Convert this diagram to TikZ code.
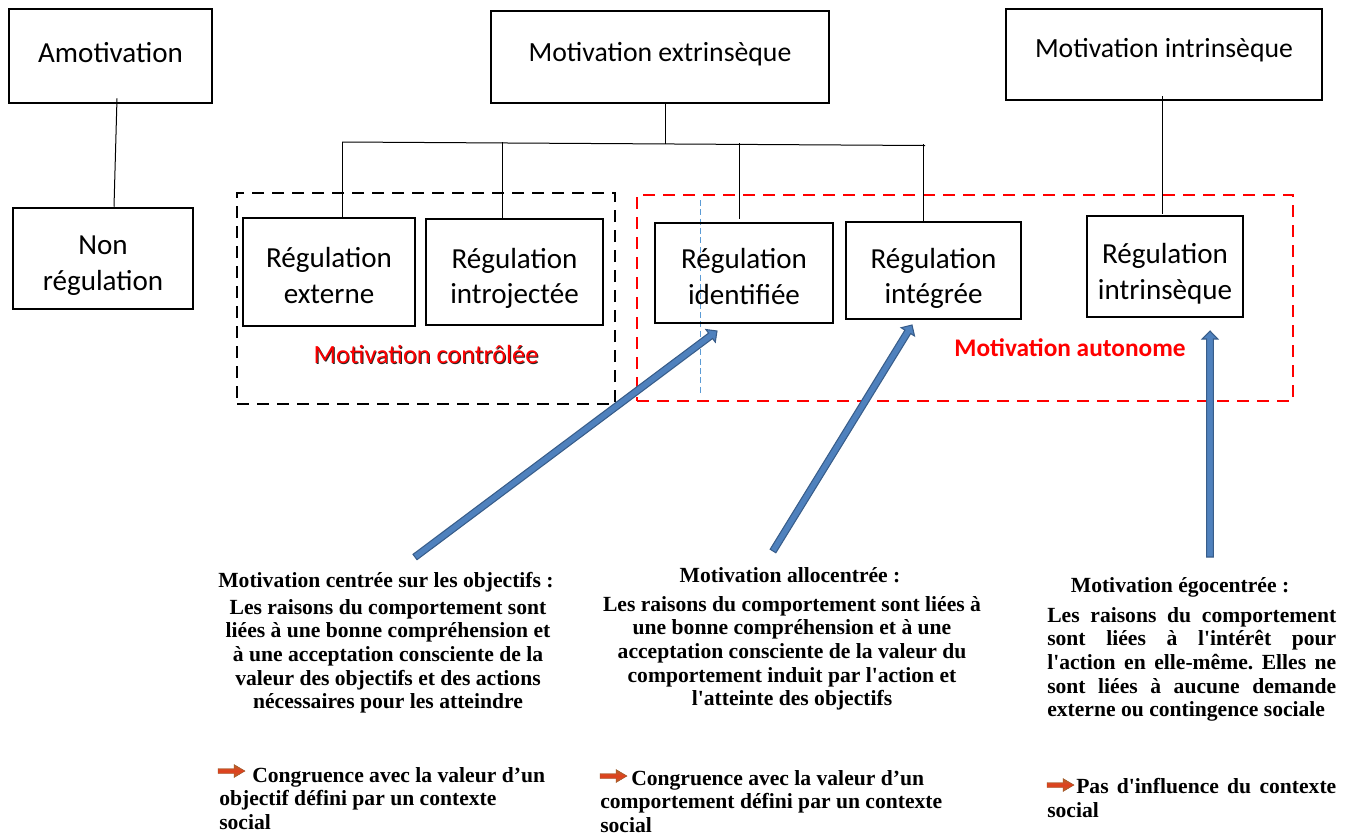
\documentclass[tikz,border=0pt]{standalone}
\usepackage{fontspec}
\setmainfont{Liberation Serif}
\newfontfamily\calibri{Carlito}
\usetikzlibrary{calc}
\definecolor{abfill}{HTML}{4F81BD}
\definecolor{abline}{HTML}{385D8A}
\definecolor{icoA}{HTML}{B5652A}
\definecolor{icoB}{HTML}{E0401E}
\definecolor{ltblue}{HTML}{5B9BD5}
\newcommand\ap{\textquotesingle}
\newcommand\jline[1]{\hbox to 216.75pt{#1}}
\newcommand\blockarrow[2]{%
 \draw[barrow] let \p1=($(#2)-(#1)$), \n1={atan2(\y1,\x1)}, \n2={veclen(\x1,\y1)} in
  ($(#1)+(\n1+90:2.5pt)$) -- ($(#1)+(\n1:{\n2-6pt})+(\n1+90:2.5pt)$) --
  ($(#1)+(\n1:{\n2-6pt})+(\n1+90:5.9pt)$) -- (#2) --
  ($(#1)+(\n1:{\n2-6pt})+(\n1-90:5.9pt)$) -- ($(#1)+(\n1:{\n2-6pt})+(\n1-90:2.5pt)$) --
  ($(#1)+(\n1-90:2.5pt)$) -- cycle;}
\newcommand\orangeicon[2]{%
 \draw[iconstyle] (#1,#2-2.5) -- (#1+16,#2-2.5) -- (#1+16,#2-6.5) -- (#1+27,#2) --
  (#1+16,#2+6.5) -- (#1+16,#2+2.5) -- (#1,#2+2.5) -- cycle;}
\begin{document}
\frenchspacing
\begin{tikzpicture}[x=0.75pt,y=-0.75pt,
  box/.style={draw, line width=1.9pt, inner sep=0pt},
  boxtext/.style={inner sep=0pt, align=center, font=\calibri\fontsize{21.8pt}{26.8pt}\selectfont},
  toptext/.style={inner sep=0pt, align=center, font=\calibri\fontsize{20.8pt}{25pt}\selectfont},
  wh/.style 2 args={minimum width=#1*0.75pt, minimum height=#2*0.75pt},
  conn/.style={line width=0.75pt},
  grpblack/.style={draw, line width=1.9pt, dash pattern=on 9pt off 6pt, inner sep=0pt},
  grpred/.style={grpblack, draw=red},
  barrow/.style={draw=abline, fill=abfill, line width=0.8pt, line join=miter},
  iconstyle/.style={draw=icoA!80!black, line width=0.3pt, top color=icoA, bottom color=icoA, middle color=icoB},
  txt/.style={inner sep=0pt, font=\bfseries\fontsize{16.2pt}{17.7pt}\selectfont},
]
\useasboundingbox (0,0) rectangle (1351,836);

% group frames
\node[grpblack, wh={378}{211}] (ctrlgrp) at (426,298.5) {};
\node[grpred, wh={656}{206}] (autogrp) at (965,298) {};
\draw[ltblue, line width=0.75pt, dash pattern=on 4.5pt off 2.5pt] (700,200) -- (700,396);

% boxes
\node[box, wh={203}{94}] (amot) at (110.5,56) {};
\node[box, wh={338}{92}] (ext) at (660,57) {};
\node[box, wh={316}{91}] (intr) at (1164,54.5) {};
\node[box, wh={180}{101}] (nonreg) at (103,258.5) {};
\node[box, wh={172}{108}] (regext) at (329,272) {};
\node[box, wh={177}{106}] (regintro) at (514.5,272) {};
\node[box, wh={178}{100}] (regid) at (744,273) {};
\node[box, wh={175}{97}] (regint) at (933.5,270.5) {};
\node[box, wh={156}{101}] (regintr) at (1165,266.5) {};

\node[boxtext] (amot-t) at ($(amot.center)+(0,-3)$) {Amotivation};
\node[toptext] (ext-t) at ($(ext.center)+(0,-3)$) {Motivation extrinsèque};
\node[toptext] (intr-t) at ($(intr.center)+(0,-4)$) {Motivation intrinsèque};
\node[boxtext] (nonreg-t) at ($(nonreg.center)+(0,7)$) {Non\\régulation};
\node[boxtext] (regext-t) at ($(regext.center)+(0,3.5)$) {Régulation\\externe};
\node[boxtext] (regintro-t) at ($(regintro.center)+(0,6.5)$) {Régulation\\introjectée};
\node[boxtext] (regid-t) at ($(regid.center)+(0,3.5)$) {Régulation\\identifiée};
\node[boxtext] (regint-t) at ($(regint.center)+(0,8)$) {Régulation\\intégrée};
\node[boxtext] (regintr-t) at ($(regintr.center)+(0,7)$) {Régulation\\intrinsèque};

% tree connectors
\coordinate (busL) at (342,142);
\coordinate (busR) at (925,145.5);
\draw[conn] ($(ext.south)+(5,0)$) -- ($(ext.south)+(5,39.5)$);
\draw[conn] (busL) -- (busR);
\draw[conn] (busL) -- ($(regext.north)+(13,0)$);
\draw[conn] ($(regintro.north)+(-12.5,0)$) -- ++(0,-76);
\draw[conn] ($(regid.north)+(-5,-3)$) -- ++(0,-75.5);
\draw[conn] ($(regint.north)+(-10.5,0)$) -- ++(0,-76.5);
\draw[conn] ($(amot.south)+(6.5,-6)$) -- ($(nonreg.north)+(11,0)$);
\draw[conn] ($(intr.south)+(-2,-5)$) -- ($(regintr.north)+(-3,-1)$);

% group labels
\node[inner sep=0pt, font=\calibri\fontsize{19.7pt}{24pt}\selectfont] (ctrllab) at (426,355)
  {\rlap{\kern0.7pt\raisebox{-0.7pt}{\color{black!85}Motivation contrôlée}}{\color{red}Motivation contrôlée}};
\node[inner sep=0pt, text=red, font=\calibri\bfseries\fontsize{19pt}{23pt}\selectfont] (autolab) at (1070,348) {Motivation autonome};

% block arrows
\coordinate (a1s) at (415,557);
\coordinate (a1e) at (717,331);
\coordinate (a2s) at (773,551);
\coordinate (a2e) at (912,325);
\coordinate (a3s) at (1210,557);
\coordinate (a3e) at (1210,331);
\blockarrow{a1s}{a1e}
\blockarrow{a2s}{a2e}
\blockarrow{a3s}{a3e}

% text blocks
\node[txt, anchor=base] (h1) at (386,587) {Motivation centrée sur les objectifs :};
\node[txt, anchor=north, align=center] (b1) at (388,599) {Les raisons du comportement sont\\liées à une bonne compréhension et\\à une acceptation consciente de la\\valeur des objectifs et des actions\\nécessaires pour les atteindre};

\node[txt, anchor=base] (h2) at (790,582) {Motivation allocentrée :};
\node[txt, anchor=north, align=center] (b2) at (792,596) {Les raisons du comportement sont liées à\\une bonne compréhension et à une\\acceptation consciente de la valeur du\\comportement induit par l\ap action et\\l\ap atteinte des objectifs};

\node[txt, anchor=base] (h3) at (1180,592) {Motivation égocentrée :};
\node[txt, anchor=north west, align=left] (b3) at (1047,607) {\jline{Les\hfill raisons\hfill du\hfill comportement}\\\jline{sont\hfill liées\hfill à\hfill l\ap intérêt\hfill pour}\\\jline{l\ap action\hfill en\hfill elle-même.\hfill Elles\hfill ne}\\\jline{sont\hfill liées\hfill à\hfill aucune\hfill demande}\\externe ou contingence sociale};

% bottom notes
\orangeicon{218}{771}
\node[txt, anchor=north west, align=left] (c1) at (219,767) {\hspace*{24.75pt}Congruence avec la valeur d’un\\objectif défini par un contexte\\social};
\orangeicon{600}{776}
\node[txt, anchor=north west, align=left] (c2) at (600,770) {\hspace*{23.25pt}Congruence avec la valeur d’un\\comportement défini par un contexte\\social};
\orangeicon{1047}{785}
\node[txt, anchor=north west, align=left] (c3) at (1047,778) {\hbox to 216.75pt{\hspace*{21.75pt}Pas\hfill d\ap influence\hfill du\hfill contexte}\\social};
\end{tikzpicture}
\end{document}
